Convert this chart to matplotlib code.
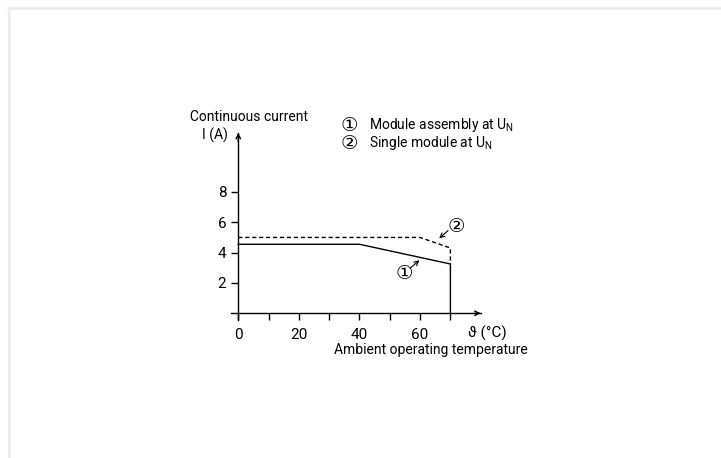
import matplotlib
matplotlib.use("Agg")
import matplotlib.pyplot as plt
from matplotlib.lines import Line2D

plt.rcParams.update({
    "font.family": ["Roboto", "DejaVu Sans"],
    "font.size": 10,
    "mathtext.default": "regular",
})

# 数据
temp_single = [0, 60, 70, 70]
cur_single = [5.0, 5.0, 4.3, 3.25]
temp_assembly = [0, 40, 70, 70]
cur_assembly = [4.55, 4.55, 3.25, 0]
x_ticks = [0, 10, 20, 30, 40, 50, 60, 70]
x_labels = ["0", "", "20", "", "40", "", "60", ""]
y_ticks = [2, 4, 6, 8]

W, H = 721, 458
fig = plt.figure(figsize=(W / 100, H / 100), dpi=100)
ax = fig.add_axes([230.7 / W, (H - 320.1) / H, 250 / W, 187.3 / H])
ax.set_xlim(-2.5, 80)
ax.set_ylim(-0.45, 11.9)

for s in ["top", "right"]:
    ax.spines[s].set_visible(False)
ax.spines["bottom"].set_position(("data", 0))
ax.spines["left"].set_position(("data", 0))
ax.spines["bottom"].set_linewidth(1.0)
ax.spines["left"].set_linewidth(1.0)

ax.set_xticks(x_ticks)
ax.set_xticklabels(x_labels)
ax.set_yticks(y_ticks)
ax.tick_params(axis="both", direction="out", length=5, width=1.0, labelsize=11)
ax.tick_params(axis="x", pad=5.5)
ax.tick_params(axis="y", pad=3.5)

# 轴箭头
ax.annotate("", xy=(80, 0), xytext=(78, 0),
            arrowprops=dict(arrowstyle="->", lw=1.0, color="black",
                            shrinkA=0, shrinkB=0, mutation_scale=8),
            annotation_clip=False)
ax.annotate("", xy=(0, 11.9), xytext=(0, 11.3),
            arrowprops=dict(arrowstyle="->", lw=1.0, color="black",
                            shrinkA=0, shrinkB=0, mutation_scale=8),
            annotation_clip=False)

# 曲线
ax.plot(temp_single, cur_single, color="black", lw=1.0, ls=(0, (3, 2)), clip_on=False)
ax.plot(temp_assembly, cur_assembly, color="black", lw=1.0, clip_on=False)

# 标注
ckw = dict(ha="center", va="center", fontsize=14, family=["DejaVu Sans"], clip_on=False)
ax.text(71.8, 5.75, "②", **ckw)
ax.annotate("", xy=(66.3, 4.94), xytext=(69.2, 5.45),
            arrowprops=dict(arrowstyle="->", lw=0.8, color="black",
                            shrinkA=0, shrinkB=0, mutation_scale=8))
ax.text(54.7, 2.64, "①", **ckw)
ax.annotate("", xy=(59.8, 3.5), xytext=(56.7, 2.97),
            arrowprops=dict(arrowstyle="->", lw=0.8, color="black",
                            shrinkA=0, shrinkB=0, mutation_scale=8))

# 文字
kw = dict(clip_on=False, fontsize=10)
ax.text(-15.9, 12.96, "Continuous current", ha="left", va="center", **kw)
ax.text(-12.0, 11.75, "I (A)", ha="left", va="center", **kw)
ax.text(36.5, 12.4, "①", **ckw)
ax.text(43.2, 12.4, "Module assembly at U$_{N}$", ha="left", va="center", **kw)
ax.text(36.5, 11.2, "②", **ckw)
ax.text(43.2, 11.2, "Single module at U$_{N}$", ha="left", va="center", **kw)
ax.text(75.8, -1.3, "ϑ (°C)", ha="left", va="center", fontsize=11, clip_on=False)
ax.text(63.7, -2.45, "Ambient operating temperature", ha="center", va="center", **kw)

# 边框
fig.add_artist(Line2D([8 / W, 1], [1 - 8 / H, 1 - 8 / H], color="#ececec", lw=2,
                      transform=fig.transFigure))
fig.add_artist(Line2D([9 / W, 9 / W], [0, 1 - 8 / H], color="#ececec", lw=2,
                      transform=fig.transFigure))

fig.savefig("out.png", dpi=100, facecolor="white")
